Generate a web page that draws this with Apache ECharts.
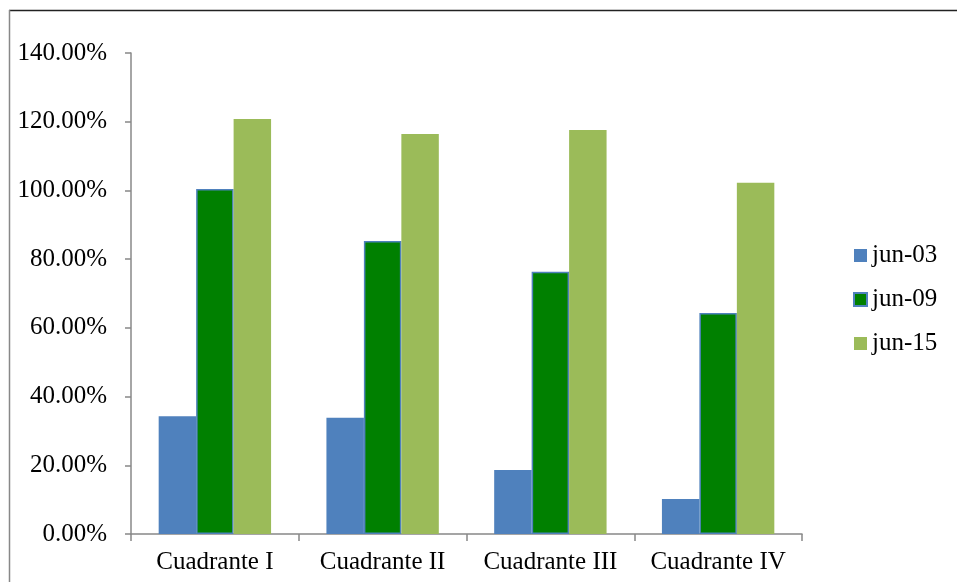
<!DOCTYPE html>
<html>
<head>
<meta charset="utf-8">
<script src="https://cdn.jsdelivr.net/npm/echarts@6/dist/echarts.min.js"></script>
<style>
html,body{margin:0;padding:0;background:#fff;}
#chart{width:957px;height:582px;}
</style>
</head>
<body>
<div id="chart"></div>
<script>
var categories = ['Cuadrante I', 'Cuadrante II', 'Cuadrante III', 'Cuadrante IV'];
var seriesNames = ['jun-03', 'jun-09', 'jun-15'];
var jun03 = [34.3, 33.8, 18.6, 10.2];
var jun09 = [100.4, 85.3, 76.3, 64.3];
var jun15 = [120.8, 116.4, 117.6, 102.2];
var yTicks = [0, 20, 40, 60, 80, 100, 120, 140];

var font = 'Liberation Serif, Times New Roman, serif';
var chart = echarts.init(document.getElementById('chart'));
chart.setOption({
  animation: false,
  backgroundColor: '#fff',
  graphic: [
    {type: 'line', shape: {x1: 9, y1: 10.5, x2: 957, y2: 10.5}, style: {stroke: '#222', lineWidth: 1.5}},
    {type: 'line', shape: {x1: 9.5, y1: 10, x2: 9.5, y2: 582}, style: {stroke: '#888', lineWidth: 1.5}}
  ],
  grid: {left: 131, right: 155, top: 53, bottom: 48},
  legend: {
    orient: 'vertical',
    left: 848,
    top: 238,
    itemWidth: 13,
    itemHeight: 13,
    itemGap: 19,
    icon: 'rect',
    textStyle: {fontFamily: font, fontSize: 25, color: '#000'},
    data: seriesNames
  },
  xAxis: {
    type: 'category',
    data: categories,
    axisLine: {lineStyle: {color: '#888', width: 1.5}},
    axisTick: {show: true, length: 7, lineStyle: {color: '#888', width: 1.5}},
    axisLabel: {fontFamily: font, fontSize: 25, color: '#000', margin: 16, interval: 0}
  },
  yAxis: {
    type: 'value',
    min: yTicks[0],
    max: yTicks[yTicks.length - 1],
    interval: 20,
    splitLine: {show: false},
    axisLine: {show: true, lineStyle: {color: '#888', width: 1.5}},
    axisTick: {show: true, length: 6, lineStyle: {color: '#888', width: 1.5}},
    axisLabel: {fontFamily: font, fontSize: 25, color: '#000', margin: 24,
      formatter: function (v) { return v.toFixed(2) + '%'; }}
  },
  series: [
    {name: seriesNames[0], type: 'bar', data: jun03, barGap: '0%', barCategoryGap: '33%',
      itemStyle: {color: '#4F81BD'}},
    {name: seriesNames[1], type: 'bar', data: jun09,
      itemStyle: {color: '#008000', borderColor: '#4F81BD', borderWidth: 1.5}},
    {name: seriesNames[2], type: 'bar', data: jun15,
      itemStyle: {color: '#9BBB59'}}
  ]
});
</script>
</body>
</html>
